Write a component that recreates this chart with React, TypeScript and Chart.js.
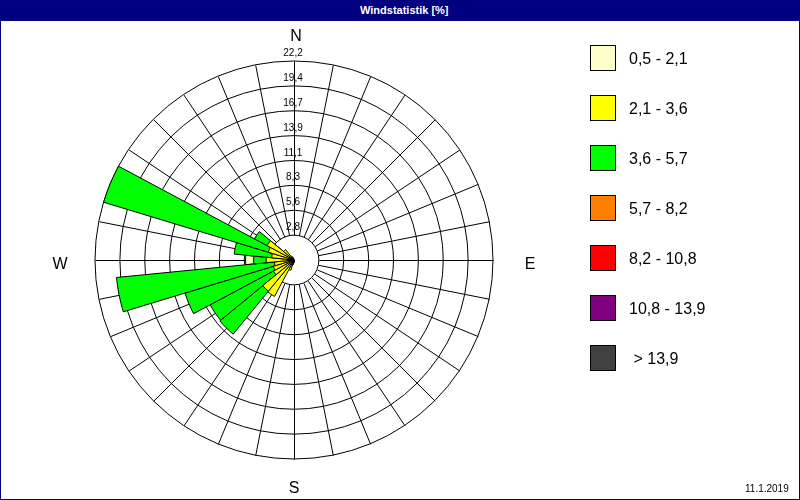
import { useEffect, useRef } from "react";
import { Chart, registerables } from "chart.js";

Chart.register(...registerables);

// 32 compass sectors, clockwise from north
const directions = [
  "N", "NzO", "NNO", "NOzN", "NO", "NOzO", "ONO", "OzN",
  "O", "OzS", "OSO", "SOzO", "SO", "SOzS", "SSO", "SzO",
  "S", "SzW", "SSW", "SWzS", "SW", "SWzW", "WSW", "WzS",
  "W", "WzN", "WNW", "NWzW", "NW", "NWzN", "NNW", "NzW",
];

// frequency [%] per sector and speed class
const class05to21 = [
  0, 0, 0, 0, 0, 0, 0, 0,
  0, 0, 0, 0, 0, 0, 0, 0,
  0.3, 0.5, 0.6, 0.6, 0.7, 0.6, 0.7, 0.8,
  5.4, 0.8, 0.7, 0.6, 0.5, 0.5, 0.3, 0,
];
const class21to36 = [
  0, 0, 0, 0, 0, 0, 0, 0,
  0, 0, 0, 0, 0, 0, 0, 0,
  0, 0, 1.2, 4.6, 4.5, 2.6, 2.4, 2.2,
  3.1, 2.5, 3.0, 3.4, 1.5, 0, 0, 0,
];
const class36to57 = [
  0, 0, 0, 0, 0, 0, 0, 0,
  0, 0, 0, 0, 0, 0, 0, 0,
  0, 0, 0, 0, 10.7, 10.6, 12.7, 19.9,
  4.5, 6.7, 22.2, 5.0, 0, 0, 0, 0,
];

const scaleMax = 22.2;
const tickValues = [2.775, 5.55, 8.325, 11.1, 13.875, 16.65, 19.425, 22.2];
const tickLabels = ["2,8", "5,6", "8,3", "11,1", "13,9", "16,7", "19,4", "22,2"];

const legendLabels = ["0,5 - 2,1", "2,1 - 3,6", "3,6 - 5,7", "5,7 - 8,2", "8,2 - 10,8", "10,8 - 13,9", " > 13,9"];
const legendColors = ["#ffffcc", "#ffff00", "#00ff00", "#ff8000", "#ff0000", "#800080", "#404040"];

const FONT = "'Liberation Sans', Arial, sans-serif";

// spokes from the inner ring outwards and the ring values
const roseGrid = {
  id: "roseGrid",
  beforeDatasetsDraw(chart: any) {
    const scale = chart.scales.r;
    const ctx = chart.ctx;
    const r0 = scale.getDistanceFromCenterForValue(tickValues[0]);
    const r1 = scale.getDistanceFromCenterForValue(scaleMax);
    ctx.save();
    ctx.translate(0.5, 0.5);
    ctx.strokeStyle = "#000";
    ctx.lineWidth = 1;
    ctx.beginPath();
    for (let k = 0; k < directions.length; k++) {
      const a = ((k * 360) / directions.length - 90) * (Math.PI / 180);
      ctx.moveTo(scale.xCenter + Math.cos(a) * r0, scale.yCenter + Math.sin(a) * r0);
      ctx.lineTo(scale.xCenter + Math.cos(a) * r1, scale.yCenter + Math.sin(a) * r1);
    }
    ctx.stroke();
    ctx.restore();
  },
  afterDatasetsDraw(chart: any) {
    const scale = chart.scales.r;
    const ctx = chart.ctx;
    ctx.save();
    ctx.fillStyle = "#000";
    ctx.font = "10px " + FONT;
    ctx.textAlign = "center";
    ctx.textBaseline = "alphabetic";
    tickValues.forEach((v, i) => {
      const y = scale.yCenter - scale.getDistanceFromCenterForValue(v) - 5;
      ctx.fillText(tickLabels[i], scale.xCenter - 1, y);
    });
    ctx.restore();
  },
};

function WindRose() {
  const chartRef = useRef<HTMLCanvasElement>(null);
  const chartInstance = useRef<Chart | null>(null);

  useEffect(() => {
    if (!chartRef.current) return;
    if (chartInstance.current) chartInstance.current.destroy();

    chartInstance.current = new Chart(chartRef.current, {
      type: "polarArea",
      data: {
        labels: directions,
        datasets: [
          { label: legendLabels[1], data: class21to36, backgroundColor: legendColors[1] },
          { label: legendLabels[2], data: class36to57, backgroundColor: legendColors[2] },
          { label: legendLabels[0], data: class05to21, backgroundColor: legendColors[0] },
        ],
      },
      options: {
        animation: false,
        responsive: false,
        events: [],
        layout: { padding: { left: 95, top: 61, right: 307, bottom: 41 } },
        elements: { arc: { borderColor: "#000", borderWidth: 1 } },
        plugins: {
          legend: { display: false },
          tooltip: { enabled: false },
        },
        scales: {
          r: {
            min: 0,
            max: scaleMax,
            startAngle: -180 / directions.length,
            ticks: { display: false, stepSize: 2.775 },
            grid: { color: "#000", lineWidth: 1, circular: true },
            angleLines: { display: false },
            pointLabels: { display: false },
          },
        },
      } as any,
      plugins: [roseGrid],
    });

    return () => {
      if (chartInstance.current) {
        chartInstance.current.destroy();
        chartInstance.current = null;
      }
    };
  }, []);

  return (
    <canvas
      ref={chartRef}
      width={800}
      height={500}
      style={{ position: "absolute", left: 0, top: 0, width: 800, height: 500 }}
    />
  );
}

export default function App() {
  const compass = [
    { t: "N", x: 296, y: 28 },
    { t: "W", x: 60, y: 256 },
    { t: "E", x: 530, y: 256 },
    { t: "S", x: 294, y: 480 },
  ];
  return (
    <div
      style={{
        position: "fixed",
        left: 0,
        top: 0,
        width: 800,
        height: 500,
        background: "#fff",
        fontFamily: FONT,
        overflow: "hidden",
      }}
    >
      <WindRose />
      <div
        style={{
          position: "absolute",
          left: 0,
          top: 0,
          width: 800,
          height: 500,
          boxSizing: "border-box",
          border: "1px solid #000080",
          pointerEvents: "none",
        }}
      />
      <div
        style={{
          position: "absolute",
          left: 0,
          top: 0,
          width: 800,
          height: 21,
          background: "#000080",
          color: "#fff",
          fontSize: 11,
          fontWeight: "bold",
          lineHeight: "20px",
        }}
      >
        <span style={{ position: "absolute", left: 360, top: 0 }}>Windstatistik [%]</span>
      </div>
      {compass.map((c) => (
        <div
          key={c.t}
          style={{
            position: "absolute",
            left: c.x - 20,
            top: c.y,
            width: 40,
            textAlign: "center",
            fontSize: 16,
            lineHeight: "16px",
          }}
        >
          {c.t}
        </div>
      ))}
      {legendLabels.map((l, i) => (
        <div key={l}>
          <div
            style={{
              position: "absolute",
              left: 590,
              top: 45 + i * 50,
              width: 26,
              height: 26,
              boxSizing: "border-box",
              border: "1px solid #000",
              background: legendColors[i],
            }}
          />
          <div
            style={{
              position: "absolute",
              left: 629,
              top: 51 + i * 50,
              fontSize: 16,
              lineHeight: "16px",
              whiteSpace: "pre",
            }}
          >
            {l}
          </div>
        </div>
      ))}
      <div style={{ position: "absolute", left: 745, top: 484, fontSize: 10, lineHeight: "10px" }}>
        11.1.2019
      </div>
    </div>
  );
}
